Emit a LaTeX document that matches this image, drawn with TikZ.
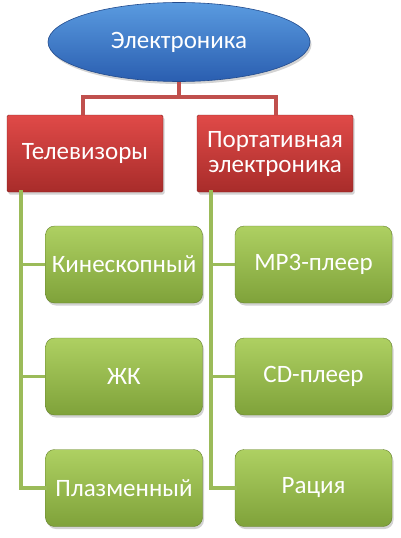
\documentclass[tikz,border=0pt]{standalone}
\usepackage{fontspec}
\setmainfont{Carlito}
\usetikzlibrary{shapes.geometric,shadows}
\definecolor{bluetop}{HTML}{5A9BE0}
\definecolor{bluebot}{HTML}{2A5EB0}
\definecolor{redtop}{HTML}{E04A48}
\definecolor{redbot}{HTML}{A82C2A}
\definecolor{greentop}{HTML}{AED062}
\definecolor{greenbot}{HTML}{7FA23A}
\definecolor{redline}{HTML}{C0504D}
\definecolor{greenline}{HTML}{9BBB59}
\tikzset{
  x=1pt, y=-1pt,
  txt/.style={text=white, font=\fontsize{25}{27}\selectfont, align=center},
  rootbox/.style={txt, ellipse, draw=bluebot!80!black, line width=0.6pt,
     top color=bluetop, bottom color=bluebot, minimum width=262pt, minimum height=79pt, inner sep=0pt,
     drop shadow={shadow xshift=1.5pt, shadow yshift=-2.5pt, opacity=0.35}},
  redbox/.style={txt, rectangle, rounded corners=1.5pt, draw=redbot!80!black, line width=0.4pt,
     top color=redtop, bottom color=redbot, minimum width=156pt, minimum height=77pt, inner sep=0pt,
     drop shadow={shadow xshift=1.5pt, shadow yshift=-2.5pt, opacity=0.35}},
  greenbox/.style={txt, rectangle, rounded corners=9pt, draw=greenbot!80!black, line width=0.4pt,
     top color=greentop, bottom color=greenbot, minimum width=157pt, minimum height=77pt, inner sep=0pt,
     drop shadow={shadow xshift=1.5pt, shadow yshift=-2.5pt, opacity=0.35}},
  rline/.style={draw=redline, line width=3.5pt},
  gline/.style={draw=greenline, line width=3.5pt},
}
\begin{document}
\begin{tikzpicture}
\useasboundingbox (0,0) rectangle (400,538);
\coordinate (mid) at (179,97);
\coordinate (lt) at (83,97);
\coordinate (rt) at (276,97);
\node[rootbox] (root) at (179,42) {Электроника};
\node[redbox] (tv) at (85,153.5) {Телевизоры};
\node[redbox] (pe) at (275,153.5) {Портативная\\[-2pt]электроника};
\draw[rline] (root.south) -- (mid);
\draw[rline] (tv.north -| lt) -- (lt) -- (rt) -- (pe.north -| rt);
\node[greenbox] (k) at (124,264.5) {Кинескопный};
\node[greenbox] (zh) at (124,376.5) {ЖК};
\node[greenbox] (pl) at (124,488) {Плазменный};
\node[greenbox] (mp) at (313.5,264.5) {MP3-плеер};
\node[greenbox] (cd) at (313.5,376.5) {CD-плеер};
\node[greenbox] (ra) at (313.5,488) {Рация};
\coordinate (lx) at (21,0);
\coordinate (rx) at (211,0);
\draw[gline, line cap=rect] (tv.south -| lx) -- (pl.west -| lx) -- (pl.west);
\draw[gline] (k.west -| lx) -- (k.west);
\draw[gline] (zh.west -| lx) -- (zh.west);
\draw[gline, line cap=rect] (pe.south -| rx) -- (ra.west -| rx) -- (ra.west);
\draw[gline] (mp.west -| rx) -- (mp.west);
\draw[gline] (cd.west -| rx) -- (cd.west);
\end{tikzpicture}
\end{document}
